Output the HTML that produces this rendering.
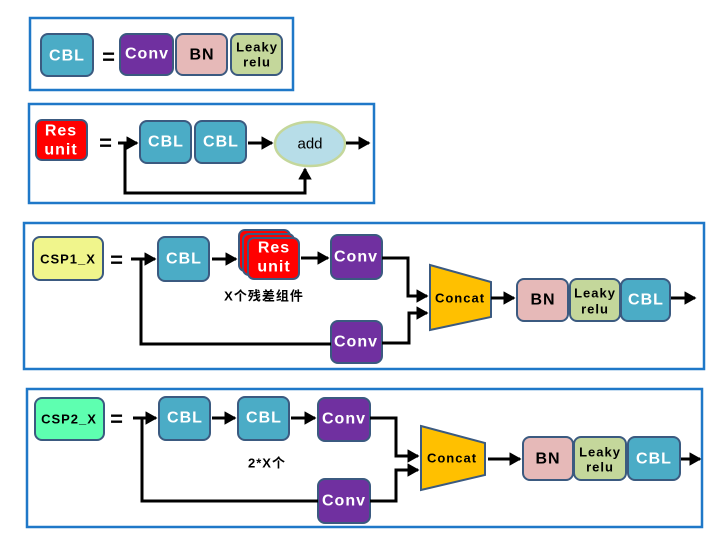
<!DOCTYPE html>
<html><head><meta charset="utf-8"><style>
body{margin:0;background:#fff;width:711px;height:529px;overflow:hidden}
text{font-family:"Liberation Sans","Noto Sans CJK SC",sans-serif;font-weight:bold;text-anchor:middle;dominant-baseline:central;letter-spacing:1px}
</style></head><body>
<svg width="711" height="529" viewBox="0 0 711 529" xmlns="http://www.w3.org/2000/svg">
<defs>
<marker id="a" markerWidth="4" markerHeight="4.5" refX="3.5" refY="2.25" orient="auto" markerUnits="strokeWidth"><path d="M0,0 L4,2.25 L0,4.5 z" fill="#000"/></marker>
</defs>
<g fill="none" stroke="#1f78c8" stroke-width="2.5">
<rect x="30" y="18" width="263" height="72"/>
<rect x="29" y="104" width="345" height="99"/>
<rect x="24" y="223" width="680" height="146"/>
<rect x="27" y="389" width="675" height="138"/>
</g>
<g stroke="#3b5a80" stroke-width="2">
<rect x="41" y="34" width="52" height="42" rx="7" fill="#4bacc6"/>
<rect x="120" y="34" width="53" height="41" rx="7" fill="#7030a0"/>
<rect x="176" y="34" width="51" height="41" rx="7" fill="#e6b9b8"/>
<rect x="231" y="34" width="51" height="41" rx="7" fill="#c4d79b"/>
<rect x="36" y="120" width="51" height="40" rx="6" fill="#ff0000"/>
<rect x="140" y="121" width="51" height="42" rx="7" fill="#4bacc6"/>
<rect x="195" y="121" width="51" height="42" rx="7" fill="#4bacc6"/>
<rect x="33" y="237" width="70" height="43" rx="7" fill="#f0f58c"/>
<rect x="158" y="237" width="51" height="44" rx="7" fill="#4bacc6"/>
<rect x="239" y="230" width="51" height="41" rx="6" fill="#ff0000"/>
<rect x="243" y="234" width="51" height="41" rx="6" fill="#ff0000"/>
<rect x="248" y="238" width="51" height="41" rx="6" fill="#ff0000"/>
<rect x="331" y="235" width="51" height="44" rx="7" fill="#7030a0"/>
<rect x="331" y="321" width="51" height="42" rx="7" fill="#7030a0"/>
<polygon points="430,265 491,282 491,317 430,330" fill="#ffc000"/>
<rect x="517" y="279" width="51" height="42" rx="7" fill="#e6b9b8"/>
<rect x="570" y="279" width="50" height="42" rx="7" fill="#c4d79b"/>
<rect x="621" y="279" width="49" height="42" rx="7" fill="#4bacc6"/>
<rect x="35" y="398" width="69" height="42" rx="7" fill="#5effb0"/>
<rect x="159" y="397" width="51" height="43" rx="7" fill="#4bacc6"/>
<rect x="238" y="397" width="51" height="43" rx="7" fill="#4bacc6"/>
<rect x="318" y="398" width="52" height="43" rx="7" fill="#7030a0"/>
<rect x="318" y="479" width="52" height="44" rx="7" fill="#7030a0"/>
<polygon points="421,426 485,443 485,475 421,490" fill="#ffc000"/>
<rect x="523" y="437" width="50" height="43" rx="7" fill="#e6b9b8"/>
<rect x="574" y="437" width="52" height="43" rx="7" fill="#c4d79b"/>
<rect x="628" y="437" width="52" height="43" rx="7" fill="#4bacc6"/>
</g>
<ellipse cx="310" cy="144" rx="35" ry="22" fill="#b7dde8" stroke="#c4d79b" stroke-width="2.5"/>
<g stroke="#000" stroke-width="3" fill="none">
<path d="M118,143 H137" marker-end="url(#a)"/>
<path d="M125,143 V193 H305 V169" marker-end="url(#a)"/>
<path d="M248,143 H272" marker-end="url(#a)"/>
<path d="M346,143 H369" marker-end="url(#a)"/>
<path d="M131,259 H155" marker-end="url(#a)"/>
<path d="M141,259 V344 H331"/>
<path d="M212,259 H236" marker-end="url(#a)"/>
<path d="M301,258 H328" marker-end="url(#a)"/>
<path d="M382,258 H408 V296 H427" marker-end="url(#a)"/>
<path d="M382,343 H409 V313 H427" marker-end="url(#a)"/>
<path d="M491,298 H514" marker-end="url(#a)"/>
<path d="M671,298 H695" marker-end="url(#a)"/>
<path d="M133,418 H156" marker-end="url(#a)"/>
<path d="M142,418 V501 H318"/>
<path d="M212,418 H235" marker-end="url(#a)"/>
<path d="M291,418 H315" marker-end="url(#a)"/>
<path d="M370,418 H396 V456 H418" marker-end="url(#a)"/>
<path d="M370,501 H396 V470 H418" marker-end="url(#a)"/>
<path d="M488,459 H520" marker-end="url(#a)"/>
<path d="M681,459 H700" marker-end="url(#a)"/>
</g>
<g font-size="22" fill="#000"><text x="109" y="57">=</text><text x="106" y="143">=</text><text x="117" y="260">=</text><text x="117" y="419">=</text></g>
<g font-size="16" fill="#fff">
<text x="67" y="56">CBL</text><text x="147" y="54">Conv</text>
<text x="61" y="131">Res</text><text x="61" y="150">unit</text>
<text x="166" y="142">CBL</text><text x="221" y="142">CBL</text>
<text x="184" y="259">CBL</text>
<text x="274" y="248">Res</text><text x="274" y="267">unit</text>
<text x="356" y="257">Conv</text><text x="356" y="342">Conv</text>
<text x="646" y="300">CBL</text>
<text x="185" y="418">CBL</text><text x="264" y="418">CBL</text>
<text x="344" y="419">Conv</text><text x="344" y="501">Conv</text>
<text x="654" y="459">CBL</text>
</g>
<g fill="#000">
<text x="202" y="55" font-size="16">BN</text>
<text x="257" y="47" font-size="13">Leaky</text><text x="257" y="62" font-size="13">relu</text>
<text x="310" y="144" font-size="15" style="font-weight:normal;letter-spacing:0">add</text>
<text x="68" y="259" font-size="13">CSP1_X</text>
<text x="69" y="419" font-size="13">CSP2_X</text>
<text x="264" y="296" font-size="13">X个残差组件</text>
<text x="267" y="463" font-size="13">2*X个</text>
<text x="460" y="298" font-size="13">Concat</text>
<text x="452" y="458" font-size="13">Concat</text>
<text x="543" y="300" font-size="16">BN</text>
<text x="595" y="293" font-size="13">Leaky</text><text x="595" y="309" font-size="13">relu</text>
<text x="548" y="459" font-size="16">BN</text>
<text x="600" y="452" font-size="13">Leaky</text><text x="600" y="467" font-size="13">relu</text>
</g>
</svg>
</body></html>
